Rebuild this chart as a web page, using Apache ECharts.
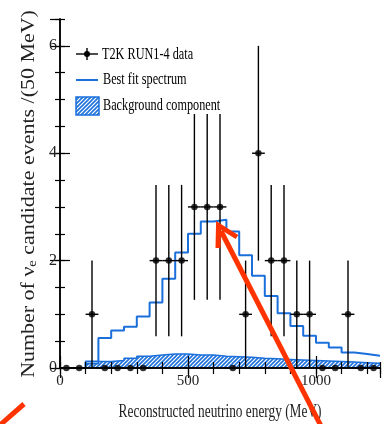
<!DOCTYPE html>
<html>
<head>
<meta charset="utf-8">
<script src="https://cdn.jsdelivr.net/npm/echarts@6/dist/echarts.min.js"></script>
<style>
html,body{margin:0;padding:0;background:#fff;}
#chart{width:382px;height:424px;}
</style>
</head>
<body>
<div id="chart"></div>
<script>
// ---- data ----
const binCenters = [25,75,125,175,225,275,325,375,425,475,525,575,625,675,725,775,825,875,925,975,1025,1075,1125,1175,1225];
const binHalfWidth = 25;
const dataCounts = [0,0,1,0,0,0,0,2,2,2,3,3,3,0,1,4,2,2,1,1,0,0,1,0,0];
const dataErrors = [0,0,1,0,0,0,0,1.41,1.41,1.41,1.73,1.73,1.73,0,1,2,1.41,1.41,1,1,0,0,1,0,0];
const bestFit = [0,0,0.12,0.56,0.70,0.77,0.96,1.22,1.66,2.15,2.50,2.73,2.76,2.54,2.10,1.72,1.34,1.02,0.78,0.60,0.47,0.38,0.29,0.26,0.23];
const background = [0,0,0.08,0.12,0.14,0.18,0.22,0.24,0.26,0.26,0.24,0.24,0.22,0.21,0.20,0.18,0.17,0.16,0.15,0.14,0.13,0.12,0.11,0.10,0.09];
const xTicks = [0,500,1000];
const yTicks = [0,2,4,6];
const legendLabels = ['T2K RUN1-4 data','Best fit spectrum','Background component'];
const xTitle = 'Reconstructed neutrino energy (MeV)';

const BLUE = '#1a6fdb';
const SERIF = '"Liberation Serif","Times New Roman",serif';

function hatchCanvas(){
  const s = 4;
  const c = document.createElement('canvas');
  c.width = s; c.height = s;
  const g = c.getContext('2d');
  g.fillStyle = '#ffffff'; g.fillRect(0,0,s,s);
  g.strokeStyle = '#1f72dc'; g.lineWidth = 1.6;
  g.beginPath();
  g.moveTo(0,s); g.lineTo(s,0);
  g.moveTo(-1,1); g.lineTo(1,-1);
  g.moveTo(s-1,s+1); g.lineTo(s+1,s-1);
  g.stroke();
  return c;
}
const hatch = hatchCanvas();

function stepData(vals){
  const d = binCenters.map((c,i)=>[c-binHalfWidth, vals[i]]);
  const last = binCenters.length-1;
  d.push([binCenters[last]+binHalfWidth, vals[last]]);
  return d;
}

const chart = echarts.init(document.getElementById('chart'), null, {renderer:'canvas'});

const axisLineStyle = {show:true, lineStyle:{color:'#000', width:1.5}};
function xAx(pos, interval, len, labels, line){
  return {
    type:'value', min:0, max:1250, interval:interval, position:pos, z:5,
    axisLine: line ? axisLineStyle : {show:false},
    axisTick:{show:true, inside:true, length:len, lineStyle:{color:'#000', width:1.2}},
    axisLabel: labels ? {show:true, margin:6, fontFamily:SERIF, fontSize:15, color:'#222', showMaxLabel:false,
      formatter: v => xTicks.indexOf(v) >= 0 ? String(v) : ''} : {show:false},
    splitLine:{show:false}
  };
}
function yAx(pos, interval, len, labels, line){
  return {
    type:'value', min:0, max:6.5, interval:interval, position:pos, z:5,
    axisLine: line ? axisLineStyle : {show:false},
    axisTick:{show:true, inside:true, length:len, lineStyle:{color:'#000', width:1.2}},
    axisLabel: labels ? {show:true, margin:3, fontFamily:SERIF, fontSize:16, color:'#222', showMaxLabel:false,
      formatter: v => yTicks.indexOf(v) >= 0 ? String(v) : ''} : {show:false},
    splitLine:{show:false}
  };
}

const option = {
  animation:false,
  backgroundColor:'#fff',
  grid:{left:60, right:2, top:19, bottom:56},
  xAxis:[
    xAx('bottom',500,12,true,true),
    xAx('bottom',100,6,false,false),
    xAx('top',500,10,false,true),
    xAx('top',100,6,false,false)
  ],
  yAxis:[
    yAx('left',2,10,true,true),
    yAx('left',0.5,5,false,false),
    yAx('right',2,10,false,true),
    yAx('right',0.5,5,false,false)
  ],
  series:[
    {
      name:legendLabels[2], type:'line', step:'end', xAxisIndex:0, yAxisIndex:0, z:2,
      symbol:'none', data:stepData(background),
      lineStyle:{color:BLUE, width:1.5},
      areaStyle:{color:{image:hatch, repeat:'repeat'}, opacity:1}
    },
    {
      name:legendLabels[1], type:'line', step:'end', xAxisIndex:0, yAxisIndex:0, z:3,
      symbol:'none', data:stepData(bestFit),
      lineStyle:{color:BLUE, width:2}
    },
    {
      name:legendLabels[0]+' errors', type:'custom', xAxisIndex:0, yAxisIndex:0, z:8,
      data: binCenters.map((c,i)=>[c, dataCounts[i], dataErrors[i]]),
      encode:{x:0, y:1},
      renderItem:(params, api)=>{
        const x = api.value(0), y = api.value(1), e = api.value(2);
        const l = api.coord([x-binHalfWidth, y]);
        const r = api.coord([x+binHalfWidth, y]);
        const lo = api.coord([x, y-e]);
        const hi = api.coord([x, y+e]);
        const st = {stroke:'#000', lineWidth:1.4};
        return {type:'group', children:[
          {type:'line', shape:{x1:l[0], y1:l[1], x2:r[0], y2:r[1]}, style:st},
          {type:'line', shape:{x1:lo[0], y1:lo[1], x2:hi[0], y2:hi[1]}, style:st}
        ]};
      }
    },
    {
      name:legendLabels[0], type:'scatter', xAxisIndex:0, yAxisIndex:0, z:9,
      symbol:'circle', symbolSize:6.5, itemStyle:{color:'#000'},
      data: binCenters.map((c,i)=>[c, dataCounts[i]])
    }
  ],
  graphic:[
    // legend
    {type:'line', z:20, shape:{x1:76,y1:54,x2:98,y2:54}, style:{stroke:'#000', lineWidth:1.4}},
    {type:'line', z:20, shape:{x1:87,y1:48,x2:87,y2:60}, style:{stroke:'#000', lineWidth:1.4}},
    {type:'circle', z:20, shape:{cx:87,cy:54,r:3}, style:{fill:'#000'}},
    {type:'text', z:20, x:102, y:55, scaleX:0.72, style:{text:legendLabels[0], font:'17px '+SERIF, fill:'#000', textAlign:'left', textVerticalAlign:'middle', align:'left', verticalAlign:'middle'}},
    {type:'line', z:20, shape:{x1:76,y1:80,x2:98,y2:80}, style:{stroke:BLUE, lineWidth:2}},
    {type:'text', z:20, x:103, y:80, scaleX:0.72, style:{text:legendLabels[1], font:'17px '+SERIF, fill:'#000', textAlign:'left', textVerticalAlign:'middle', align:'left', verticalAlign:'middle'}},
    {type:'rect', z:20, shape:{x:76,y:97,width:23,height:18}, style:{fill:{image:hatch, repeat:'repeat'}, stroke:BLUE, lineWidth:1.5}},
    {type:'text', z:20, x:103, y:106, scaleX:0.72, style:{text:legendLabels[2], font:'17px '+SERIF, fill:'#000', textAlign:'left', textVerticalAlign:'middle', align:'left', verticalAlign:'middle'}},
    // axis titles
    {type:'text', z:20, x:220, y:412, scaleX:0.74, style:{text:xTitle, font:'18px '+SERIF, fill:'#222', textAlign:'center', textVerticalAlign:'middle', align:'center', verticalAlign:'middle'}},
    {type:'text', z:20, x:29, y:194, rotation:Math.PI/2, scaleX:1.22, style:{
      text:'{a|Number of ν}{s|e}{a| candidate events /(50 MeV)}',
      rich:{a:{font:'18px '+SERIF, fill:'#222', lineHeight:20}, s:{font:'12px '+SERIF, fill:'#222', verticalAlign:'bottom', lineHeight:20}},
      fill:'#222', textAlign:'center', textVerticalAlign:'middle', align:'center', verticalAlign:'middle'}},
    // red annotation arrows
    {type:'line', z:30, shape:{x1:221,y1:231,x2:322,y2:428}, style:{stroke:'#ff3300', lineWidth:5}},
    {type:'polyline', z:30, shape:{points:[[218,248],[218.5,225.5],[237,237]]}, style:{stroke:'#ff3300', lineWidth:5, fill:null, lineJoin:'miter'}},
    {type:'line', z:30, shape:{x1:0,y1:425,x2:24,y2:404}, style:{stroke:'#ff3300', lineWidth:5}}
  ]
};
chart.setOption(option);
</script>
</body>
</html>
